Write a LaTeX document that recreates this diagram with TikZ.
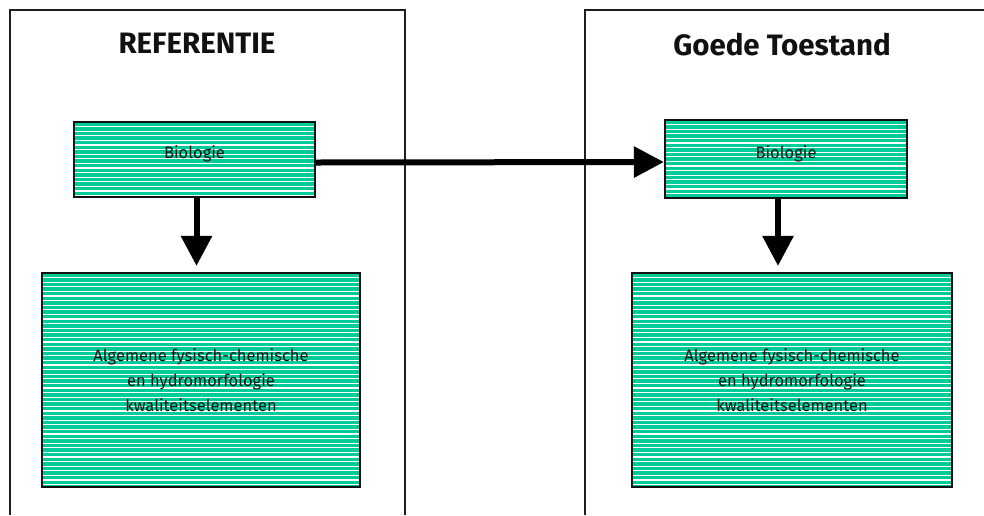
\documentclass[tikz,border=0pt]{standalone}
\usepackage{fontspec}
\setmainfont{Fira Sans}
\usepackage{tikz}
\usetikzlibrary{arrows.meta,positioning}
\definecolor{ink}{HTML}{111111}
\definecolor{boxgreen}{HTML}{00CC99}
\definecolor{frame}{HTML}{1E1E1E}

\begin{document}
\begin{tikzpicture}[x=1pt,y=-1pt,
  panel/.style={draw=frame,line width=2pt},
  title/.style={font=\fontsize{29.5}{33}\selectfont\bfseries,text=ink},
  element/.style={draw=ink,line width=2.2pt,fill=boxgreen,align=center,
                  font=\fontsize{16.5}{25}\selectfont,text=ink,
                  path picture={\foreach \k in {1,...,47}
                    \draw[white,line width=1.2pt]
                      ([yshift=-\k*4.6pt]path picture bounding box.north west) --
                      ([yshift=-\k*4.6pt]path picture bounding box.north east);}},
  bigarr/.style={-{Triangle[length=30pt,width=30pt]},line width=6pt,draw=black}]

\useasboundingbox (0,0) rectangle (984,515);

% two columns, open at the bottom
\draw[panel] (10,515) -- (10,10) -- (405,10) -- (405,515);
\draw[panel] (585,515) -- (585,10) -- (990,10);

\node[title] (refTitle)  at (197,43) {REFERENTIE};
\node[title] (goedTitle) at (782,45) {Goede Toestand};

\node[element,minimum width=241pt,minimum height=75pt,text depth=14pt] (bioRef)  at (194.5,159.5) {Biologie};
\node[element,minimum width=318pt,minimum height=214pt] (algRef) at (201,380)
      {Algemene fysisch-chemische\\ en hydromorfologie\\ kwaliteitselementen};
\node[element,minimum width=242pt,minimum height=78pt,text depth=14pt] (bioGoed) at (786,159) {Biologie};
\node[element,minimum width=320pt,minimum height=214pt] (algGoed) at (792,380)
      {Algemene fysisch-chemische\\ en hydromorfologie\\ kwaliteitselementen};

\draw[bigarr] ([yshift=-3pt]bioRef.east) -- ([yshift=-3pt]bioGoed.west);
\draw[bigarr,shorten >=6pt] ([xshift=2pt]bioRef.south) -- ([xshift=2pt]bioRef.south |- algRef.north);
\draw[bigarr,shorten >=6pt] ([xshift=-8pt]bioGoed.south) -- ([xshift=-8pt]bioGoed.south |- algGoed.north);
\end{tikzpicture}
\end{document}
